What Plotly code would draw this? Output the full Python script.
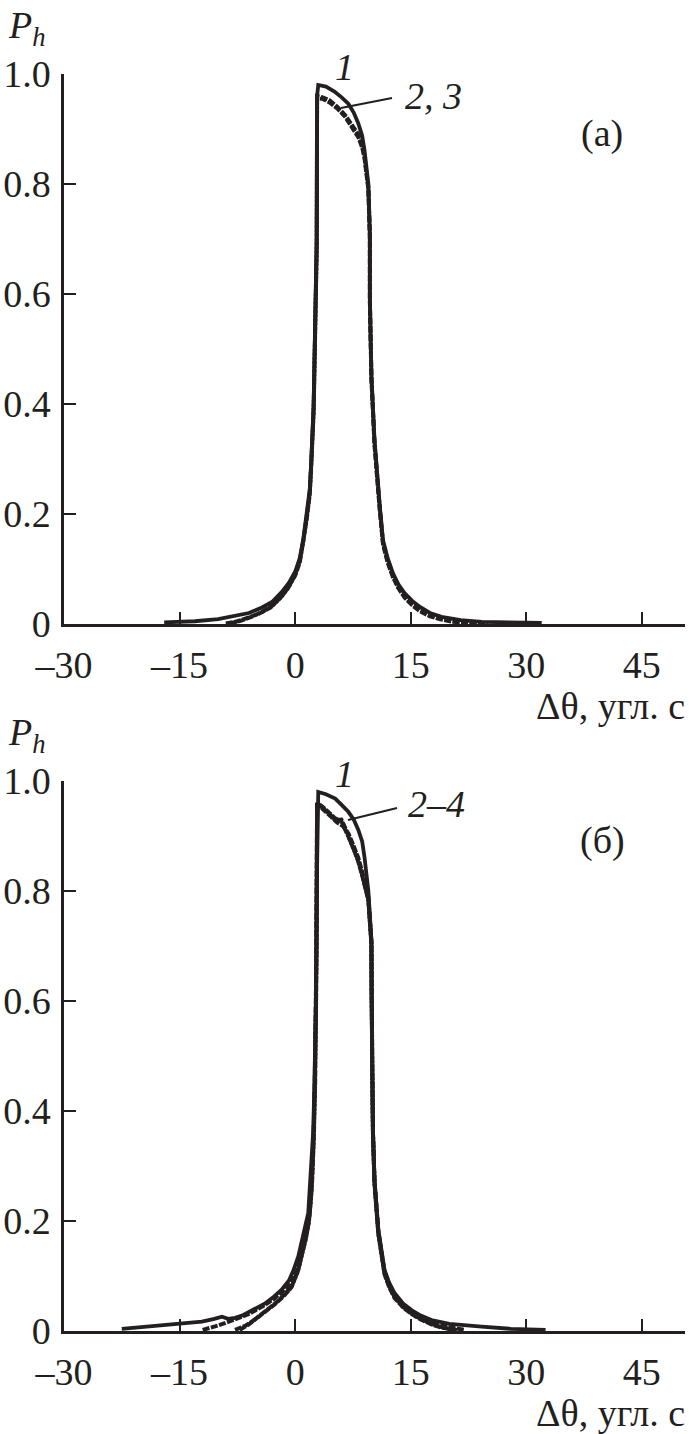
import plotly.graph_objects as go

# ---------------- data ----------------
# panel (a)
a1_x = [-17, -13, -10, -8, -6, -4.3, -3, -1.75, -0.8, 0, 0.6, 1.06, 1.5, 1.9, 2.1, 2.4, 2.6, 2.8, 2.85, 3.0,
        4.0, 5.1, 6.0, 6.9, 7.6, 8.2, 8.7, 9.0, 9.5, 9.7, 9.7, 9.9, 10.3, 10.6, 11.0, 11.4, 12.0, 12.7, 13.4, 14.2,
        15.2, 16.2, 17.5, 19.0, 21.5, 24.2, 28, 32]
a1_y = [0.003, 0.005, 0.009, 0.014, 0.02, 0.03, 0.04, 0.058, 0.075, 0.095, 0.12, 0.155, 0.20, 0.245, 0.30, 0.40,
        0.55, 0.70, 0.96, 0.98, 0.977, 0.968, 0.958, 0.946, 0.93, 0.91, 0.888, 0.862, 0.80, 0.71, 0.59, 0.45,
        0.335, 0.274, 0.213, 0.153, 0.12, 0.092, 0.072, 0.056, 0.042, 0.031, 0.02, 0.013, 0.007, 0.004, 0.003, 0.002]

a2_x = [-8.5, -7, -5.5, -4.3, -3, -1.75, -0.8, 0, 0.6, 1.06, 1.5, 1.9, 2.1, 2.4, 2.6, 2.8, 2.85, 3.5, 4.5, 5.5,
        6.5, 7.5, 8.2, 8.7, 9.0, 9.5, 9.7, 9.7, 9.9, 10.3, 10.6, 11.0, 11.4, 12.0, 12.7, 13.4, 14.2, 15.2, 16.2, 17.5,
        19.0, 21.0, 23.0, 25.0]
a2_y = [0.001, 0.006, 0.014, 0.022, 0.033, 0.05, 0.068, 0.09, 0.115, 0.15, 0.195, 0.24, 0.29, 0.39, 0.54, 0.69,
        0.96, 0.958, 0.952, 0.94, 0.925, 0.905, 0.89, 0.87, 0.85, 0.795, 0.71, 0.59, 0.45, 0.33, 0.27, 0.208, 0.148,
        0.115, 0.087, 0.067, 0.05, 0.036, 0.025, 0.015, 0.009, 0.004, 0.002, 0.001]

a3_x = [-9.0, -7.5, -6.0, -4.5, -3.2, -2.0, -1.0, 0, 0.6, 1.06, 1.5, 1.9, 2.1, 2.4, 2.6, 2.8, 2.85, 3.5, 4.5, 5.5,
        6.5, 7.5, 8.2, 8.7, 9.0, 9.5, 9.7, 9.7, 9.9, 10.3, 10.6, 11.0, 11.4, 12.0, 12.7, 13.4, 14.2, 15.2, 16.2, 17.5,
        19.0, 20.5, 22.5, 24.0]
a3_y = [0.001, 0.005, 0.012, 0.02, 0.03, 0.046, 0.064, 0.088, 0.112, 0.148, 0.19, 0.236, 0.285, 0.385, 0.53, 0.68,
        0.955, 0.955, 0.948, 0.937, 0.922, 0.902, 0.885, 0.866, 0.848, 0.79, 0.70, 0.585, 0.445, 0.325, 0.265, 0.204,
        0.145, 0.112, 0.085, 0.065, 0.048, 0.034, 0.023, 0.014, 0.008, 0.004, 0.002, 0.001]

# panel (б)
b1_x = [-22.5, -17.3, -14, -12.1, -10.5, -9.5, -8.7, -7.8, -6.9, -5.5, -3.9, -2.8, -1.75, -0.8, -0.2, 0.4, 0.84,
        1.3, 1.7, 2.1, 2.35, 2.5, 2.7, 2.8, 3.0, 4.0, 5.2, 6.0, 6.9, 7.6, 8.2, 8.7, 9.0, 9.5, 9.9, 9.9, 10.0, 10.1,
        10.3, 10.8, 11.6, 12.2, 12.9, 14.0, 15.1, 16.3, 17.7, 20.0, 24.2, 28.0, 32.5]
b1_y = [0.004, 0.01, 0.014, 0.017, 0.022, 0.026, 0.022, 0.024, 0.028, 0.038, 0.05, 0.062, 0.075, 0.092, 0.111,
        0.135, 0.165, 0.19, 0.214, 0.293, 0.365, 0.45, 0.6, 0.8, 0.98, 0.976, 0.968, 0.957, 0.944, 0.93, 0.911, 0.89,
        0.862, 0.80, 0.711, 0.62, 0.5, 0.365, 0.275, 0.184, 0.111, 0.088, 0.069, 0.05, 0.038, 0.028, 0.02, 0.013,
        0.008, 0.004, 0.002]

b2_x = [-7.2, -6.0, -4.8, -3.6, -2.6, -1.4, -0.45, 0.4, 0.9, 1.4, 1.8, 2.1, 2.35, 2.6, 2.8, 2.85, 3.5, 4.5, 5.2,
        6.0, 6.5, 6.9, 7.6, 8.2, 8.7, 9.0, 9.5, 9.9, 9.9, 10.0, 10.1, 10.3, 10.8, 11.6, 12.2, 12.9, 14.0, 15.1, 16.3,
        17.7, 19.0, 20.5]
b2_y = [0.002, 0.012, 0.026, 0.038, 0.05, 0.066, 0.081, 0.111, 0.14, 0.17, 0.2, 0.25, 0.33, 0.45, 0.7, 0.958,
        0.952, 0.94, 0.929, 0.93, 0.915, 0.9, 0.878, 0.855, 0.83, 0.81, 0.785, 0.705, 0.615, 0.495, 0.36, 0.27,
        0.178, 0.105, 0.082, 0.062, 0.044, 0.032, 0.022, 0.013, 0.007, 0.002]

b3_x = [-12.0, -10.0, -8.0, -6.0, -4.2, -2.8, -1.6, -0.4, 0.5, 1.0, 1.5, 1.9, 2.2, 2.45, 2.7, 2.85, 3.5, 4.5, 5.4,
        6.2, 6.9, 7.6, 8.2, 8.7, 9.0, 9.5, 9.9, 9.9, 10.0, 10.1, 10.3, 10.8, 11.6, 12.2, 12.9, 14.0, 15.1, 16.3,
        17.7, 19.5, 22.0]
b3_y = [0.002, 0.01, 0.02, 0.031, 0.045, 0.058, 0.072, 0.09, 0.118, 0.148, 0.18, 0.215, 0.27, 0.36, 0.6, 0.955,
        0.95, 0.937, 0.925, 0.918, 0.905, 0.882, 0.86, 0.835, 0.815, 0.79, 0.708, 0.618, 0.497, 0.362, 0.272,
        0.181, 0.108, 0.085, 0.065, 0.047, 0.035, 0.025, 0.016, 0.008, 0.002]

b4_x = [-7.8, -6.4, -5.0, -3.8, -2.7, -1.5, -0.5, 0.3, 0.85, 1.35, 1.75, 2.05, 2.3, 2.55, 2.75, 2.85, 3.5, 4.5,
        5.2, 6.0, 6.5, 6.9, 7.6, 8.2, 8.7, 9.0, 9.5, 9.9, 9.9, 10.0, 10.1, 10.3, 10.8, 11.6, 12.2, 12.9, 14.0, 15.1,
        16.3, 17.7, 19.0, 21.0]
b4_y = [0.002, 0.01, 0.023, 0.035, 0.048, 0.063, 0.079, 0.106, 0.135, 0.165, 0.196, 0.245, 0.32, 0.44, 0.68,
        0.96, 0.954, 0.942, 0.932, 0.927, 0.913, 0.899, 0.876, 0.853, 0.828, 0.808, 0.783, 0.703, 0.612, 0.492,
        0.358, 0.268, 0.176, 0.103, 0.08, 0.06, 0.043, 0.031, 0.021, 0.012, 0.006, 0.002]

x_tickvals = [-30, -15, 0, 15, 30, 45]
x_ticktext = ["–30", "–15", "0", "15", "30", "45"]
y_tickvals = [0, 0.2, 0.4, 0.6, 0.8, 1.0]
y_ticktext = ["0", "0.2", "0.4", "0.6", "0.8", "1.0"]
x_title = "Δθ, угл. с"
y_title = "<i>P<sub>h</sub></i>"
panel_labels = ["(а)", "(б)"]
curve_labels = [["<i>1</i>", "<i>2, 3</i>"], ["<i>1</i>", "<i>2–4</i>"]]

# ---------------- figure ----------------
W, H = 689, 1434
FONT = "Liberation Serif"
BLACK = "#231f20"


def PX(x):
    return x / W


def PY(y):
    return 1 - y / H


fig = go.Figure()

solid = dict(color=BLACK, width=3.8)
dashed = dict(color=BLACK, width=4.0, dash="7px,1.5px")

fig.add_trace(go.Scatter(x=a1_x, y=a1_y, mode="lines", line=solid, xaxis="x", yaxis="y", name="1"))
fig.add_trace(go.Scatter(x=a2_x, y=a2_y, mode="lines", line=dashed, xaxis="x", yaxis="y", name="2"))
fig.add_trace(go.Scatter(x=a3_x, y=a3_y, mode="lines", line=dashed, xaxis="x", yaxis="y", name="3"))

fig.add_trace(go.Scatter(x=b1_x, y=b1_y, mode="lines", line=solid, xaxis="x2", yaxis="y2", name="1"))
fig.add_trace(go.Scatter(x=b2_x, y=b2_y, mode="lines", line=dashed, xaxis="x2", yaxis="y2", name="2"))
fig.add_trace(go.Scatter(x=b3_x, y=b3_y, mode="lines", line=dashed, xaxis="x2", yaxis="y2", name="3"))
fig.add_trace(go.Scatter(x=b4_x, y=b4_y, mode="lines", line=dashed, xaxis="x2", yaxis="y2", name="4"))

XL, XR = 64, 685
panels = [(74, 624), (781, 1331)]

tickfont = dict(family=FONT, size=38, color=BLACK)


def xaxis_cfg(anchor):
    return dict(
        domain=[PX(XL), PX(XR)], anchor=anchor, range=[-30, 50.6], automargin=False,
        tickvals=x_tickvals, ticktext=x_ticktext, ticks="inside", ticklen=12, tickwidth=2,
        tickcolor=BLACK, showline=True, linecolor=BLACK, linewidth=2.5, showgrid=False,
        zeroline=False, tickfont=tickfont, ticklabelstandoff=6, fixedrange=True,
    )


def yaxis_cfg(anchor, top, bottom):
    return dict(
        domain=[PY(bottom), PY(top)], anchor=anchor, range=[0, 1.0], automargin=False,
        tickvals=y_tickvals, ticktext=y_ticktext, ticks="inside", ticklen=12, tickwidth=2,
        tickcolor=BLACK, showline=True, linecolor=BLACK, linewidth=2.5, showgrid=False,
        zeroline=False, tickfont=tickfont, ticklabelstandoff=3, fixedrange=True,
    )


annotations = []
shapes = []
label_font = dict(family=FONT, size=38, color=BLACK)
for i, (top, bottom) in enumerate(panels):
    dy = top - 74
    annotations += [
        dict(text=y_title, x=PX(6), y=PY(28 + dy), xref="paper", yref="paper",
             xanchor="left", yanchor="middle", showarrow=False, font=label_font),
        dict(text=x_title, x=PX(687), y=PY(706 + dy), xref="paper", yref="paper",
             xanchor="right", yanchor="middle", showarrow=False, font=label_font),
        dict(text=panel_labels[i], x=PX(602), y=PY(133 + dy), xref="paper", yref="paper",
             xanchor="center", yanchor="middle", showarrow=False, font=label_font),
        dict(text=curve_labels[i][0], x=PX(344), y=PY(67 + dy), xref="paper", yref="paper",
             xanchor="center", yanchor="middle", showarrow=False, font=label_font),
        dict(text=curve_labels[i][1], x=PX(403 if i == 0 else 406), y=PY((96 if i == 0 else 97) + dy),
             xref="paper", yref="paper", xanchor="left", yanchor="middle", showarrow=False, font=label_font),
    ]
    if i == 0:
        x0, y0, x1, y1 = 341, 108, 392, 98
    else:
        x0, y0, x1, y1 = 348, 113, 397, 101
    shapes.append(dict(type="line", xref="paper", yref="paper",
                       x0=PX(x0), y0=PY(y0 + dy), x1=PX(x1), y1=PY(y1 + dy),
                       line=dict(color=BLACK, width=2.2)))

fig.update_layout(
    template="none",
    width=W, height=H,
    margin=dict(l=0, r=0, t=0, b=0, pad=0, autoexpand=False),
    paper_bgcolor="white", plot_bgcolor="white",
    showlegend=False,
    font=dict(family=FONT, color=BLACK),
    xaxis=xaxis_cfg("y"),
    yaxis=yaxis_cfg("x", *panels[0]),
    xaxis2=xaxis_cfg("y2"),
    yaxis2=yaxis_cfg("x2", *panels[1]),
    annotations=annotations,
    shapes=shapes,
)

fig.write_html("out.html", config={"displayModeBar": False},
               post_script="document.body.style.margin='0px';document.body.style.overflow='hidden';")
